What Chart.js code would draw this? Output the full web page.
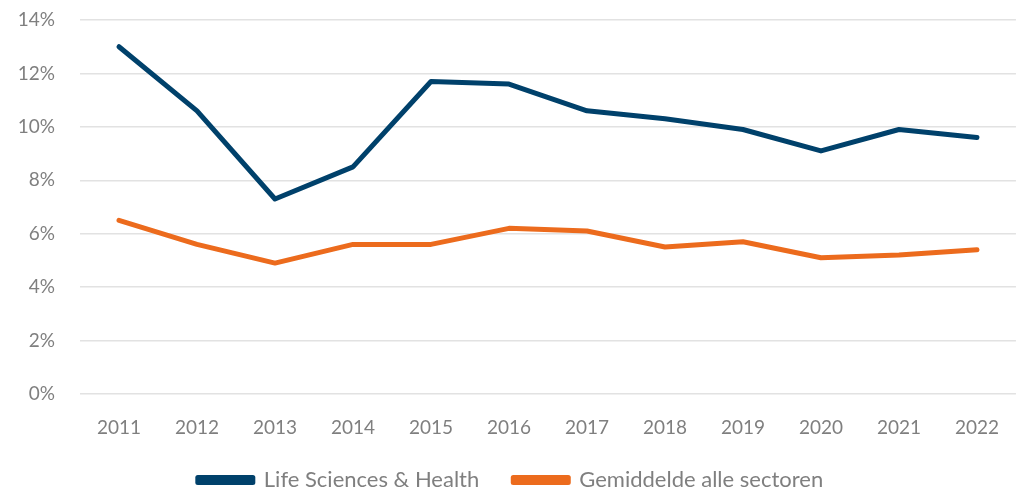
<!DOCTYPE html>
<html>
<head>
<meta charset="utf-8">
<script src="https://cdn.jsdelivr.net/npm/chart.js@4"></script>
<style>
html,body{margin:0;padding:0;background:#fff;}
#wrap{width:1021px;height:492px;position:relative;}
</style>
</head>
<body>
<div id="wrap"><canvas id="c"></canvas></div>
<script>
const categories = ['2011','2012','2013','2014','2015','2016','2017','2018','2019','2020','2021','2022'];
const lifeSciences = [13.0, 10.6, 7.3, 8.5, 11.7, 11.6, 10.6, 10.3, 9.9, 9.1, 9.9, 9.6];
const gemiddelde = [6.5, 5.6, 4.9, 5.6, 5.6, 6.2, 6.1, 5.5, 5.7, 5.1, 5.2, 5.4];
const seriesNames = ['Life Sciences & Health', 'Gemiddelde alle sectoren'];

const FONT = 'Lato, "Open Sans", sans-serif';
new Chart(document.getElementById('c'), {
  type: 'line',
  data: {
    labels: categories,
    datasets: [
      {label: seriesNames[0], data: lifeSciences, borderColor: '#00416b', backgroundColor: '#00416b',
       borderWidth: 5, pointRadius: 0, tension: 0, borderCapStyle: 'round', borderJoinStyle: 'round'},
      {label: seriesNames[1], data: gemiddelde, borderColor: '#ec6b1d', backgroundColor: '#ec6b1d',
       borderWidth: 5, pointRadius: 0, tension: 0, borderCapStyle: 'round', borderJoinStyle: 'round'}
    ]
  },
  options: {
    responsive: true,
    maintainAspectRatio: false,
    animation: false,
    layout: {padding: {left: 0, right: 0, top: 0, bottom: 0}},
    plugins: {
      tooltip: {enabled: false},
      legend: {
        position: 'bottom',
        maxHeight: 57,
        labels: {
          boxWidth: 55, boxHeight: 5, padding: 34,
          color: '#7f7f7f',
          font: {family: FONT, size: 22}
        }
      }
    },
    scales: {
      x: {
        offset: true,
        grid: {display: false, drawTicks: false},
        border: {display: false},
        ticks: {color: '#7f7f7f', font: {family: FONT, size: 19}, padding: 22},
        afterFit: s => { s.height = 41; }
      },
      y: {
        min: 0, max: 14,
        grid: {color: '#e2e2e2', lineWidth: 1.5, drawTicks: false},
        border: {display: false},
        ticks: {stepSize: 2, color: '#7f7f7f', font: {family: FONT, size: 19}, padding: 25,
                callback: v => v + '%'},
        afterFit: s => { s.width = 80; s.paddingTop = 20; s.paddingBottom = 0; }
      }
    }
  }
});
</script>
</body>
</html>
